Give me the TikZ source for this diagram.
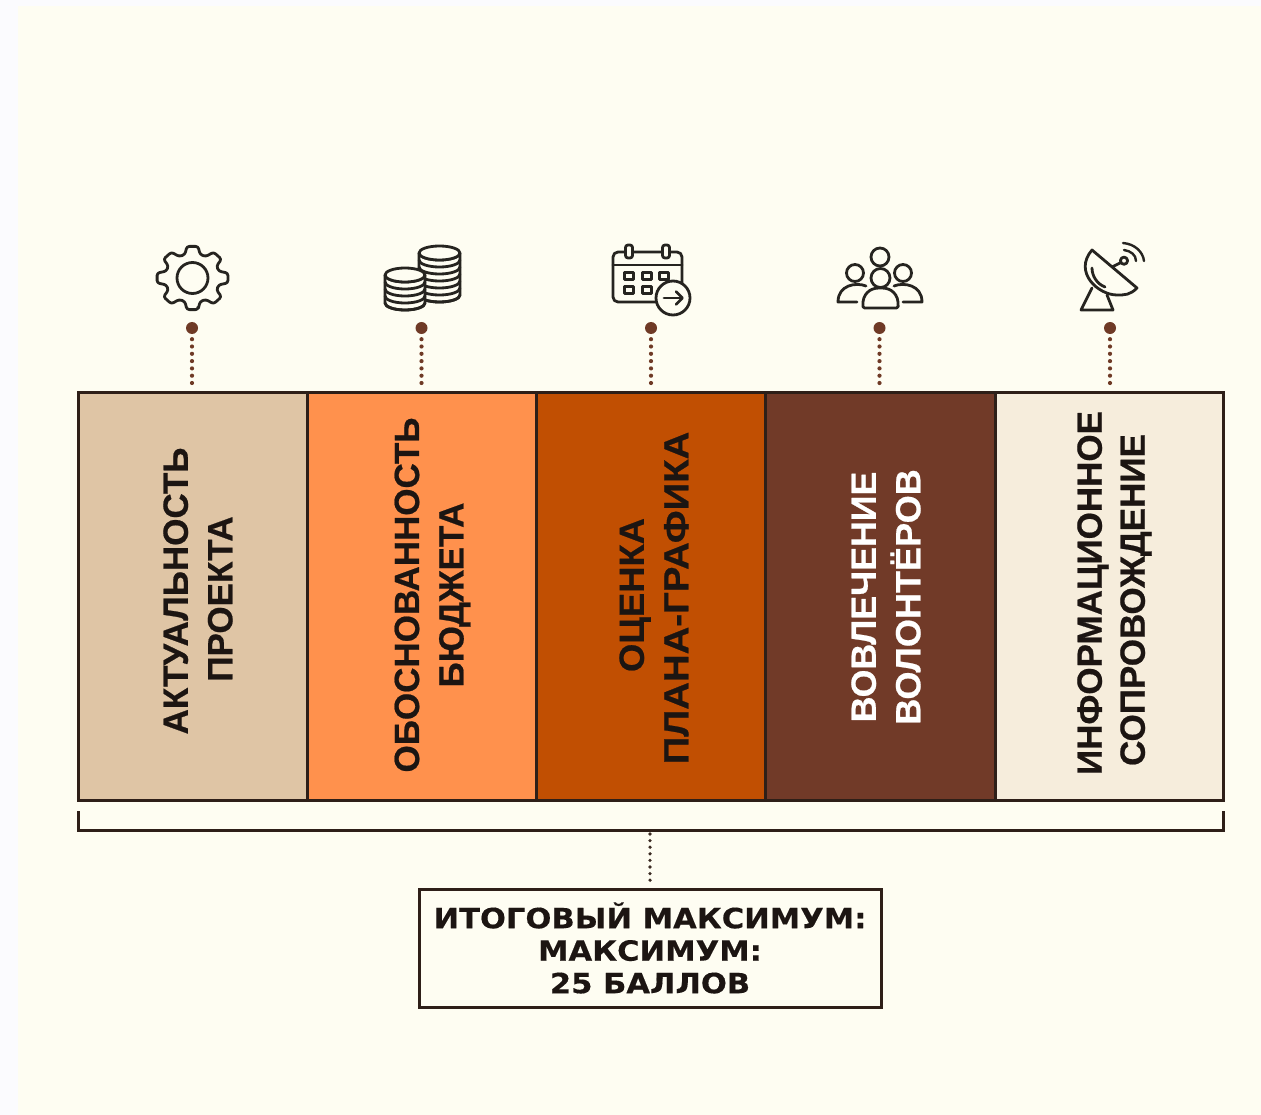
\documentclass[tikz,border=0pt]{standalone}
\usepackage{fontspec}
\setmainfont{Liberation Sans}[BoldFeatures={FakeBold=0.6}]
\newfontfamily\boxfont{DejaVu Sans}[BoldFont={DejaVu Sans Bold},BoldFeatures={FakeStretch=1.1,FakeBold=0.4}]
\definecolor{pagebg}{HTML}{FBFBFE}
\definecolor{creambg}{HTML}{FEFDF2}
\definecolor{ink}{HTML}{2E1F18}
\definecolor{textink}{HTML}{1C1512}
\definecolor{iconink}{HTML}{262420}
\definecolor{dotbrown}{HTML}{6F3A26}
\definecolor{dotdark}{HTML}{3A2A22}
\definecolor{colA}{HTML}{DFC5A5}
\definecolor{colB}{HTML}{FF914D}
\definecolor{colC}{HTML}{C14F02}
\definecolor{colD}{HTML}{713A28}
\definecolor{colE}{HTML}{F6EDDC}
\tikzset{
  colbox/.style={draw=ink,line width=3pt,minimum height=408pt,inner sep=0pt,outer sep=0pt,anchor=north west},
  coltext/.style={rotate=90,align=center,font=\fontsize{35}{44.5}\selectfont\bfseries,inner sep=0pt},
  pin/.style={circle,fill=dotbrown,minimum size=12pt,inner sep=0pt},
  dotline/.style={draw=#1,line width=4.2pt,line cap=round,dash pattern=on 0pt off 7.3pt},
  dotline/.default=dotbrown,
  icon/.style={draw=iconink,line width=2.8pt,line join=round,line cap=round},
  coinfill/.style={icon,fill=creambg},
  framebox/.style={draw=ink,line width=3pt,fill=creambg,minimum width=462pt,minimum height=118pt,inner sep=0pt,outer sep=0pt,align=center,text=textink,font=\boxfont\fontsize{27.8}{32.5}\selectfont\bfseries},
}
\newcommand{\coinstack}[5]{% cx, top cy, rx, ry, number of lower layers
  \pgfmathsetmacro{\stackbot}{#2+#4*(#5-1)}
  \draw[coinfill] (#1-#3,#2) -- (#1-#3,\stackbot) arc[start angle=180,end angle=0,x radius=#3,y radius=#4] -- (#1+#3,#2) -- cycle;
  \foreach \k in {1,...,#5}{
    \pgfmathsetmacro{\layer}{#2+#4*(\k-1)}
    \draw[icon] (#1-#3,\layer) arc[start angle=180,end angle=0,x radius=#3,y radius=#4];
  }
  \draw[coinfill] (#1,#2) ellipse[x radius=#3,y radius=#4];
}
\begin{document}
\begin{tikzpicture}[x=1pt,y=-1pt]
\useasboundingbox (0,0) rectangle (1261,1115);
\fill[pagebg] (0,0) rectangle (1261,1115);
\fill[creambg] (18,6) rectangle (1261,1115);

% columns
\node[colbox,fill=colA,minimum width=229pt] (c1) at (78,392) {};
\node[colbox,fill=colB,minimum width=229pt] (c2) at (307,392) {};
\node[colbox,fill=colC,minimum width=229pt] (c3) at (536,392) {};
\node[colbox,fill=colD,minimum width=230pt] (c4) at (765,392) {};
\node[colbox,fill=colE,minimum width=228pt] (c5) at (995,392) {};

\node[coltext,text=textink] (t1) at (198,595) {\hspace*{8pt}АКТУАЛЬНОСТЬ\\ПРОЕКТА\hspace*{8pt}};
\node[coltext,text=textink] (t2) at (432.5,595) {ОБОСНОВАННОСТЬ\\БЮДЖЕТА};
\node[coltext,text=textink] (t3) at (654,598) {\hspace*{6pt}\scalebox{1.04}[1]{ОЦЕНКА}\\\scalebox{1.096}[1]{ПЛАНА-ГРАФИКА}};
\node[coltext,text=white] (t4) at (886,597) {\scalebox{1.02}[1]{ВОВЛЕЧЕНИЕ}\\\scalebox{1.03}[1]{ВОЛОНТЁРОВ}};
\node[coltext,text=textink,font=\fontsize{35}{43}\selectfont\bfseries] (t5) at (1114.5,595) {\hspace*{4pt}ИНФОРМАЦИОННОЕ\\СОПРОВОЖДЕНИЕ\hspace*{10pt}};

% pins and dotted connectors
\node[pin] (p1) at (192,328) {};
\node[pin] (p2) at (421.5,328) {};
\node[pin] (p3) at (651,328) {};
\node[pin] (p4) at (879.5,328) {};
\node[pin] (p5) at (1110,328) {};
\foreach \i in {1,...,5}
  \draw[dotline] (p\i.south) ++(0,5) -- ([yshift=6.5pt]p\i.south |- c\i.north);

% gear
\begin{scope}[shift={(192.5,278)},xscale=1.12]
  \draw[icon,rounded corners=2.5pt]
    (81:32) \foreach \a in {0,45,...,315}{
      -- ({\a+81}:32) -- ({\a+99}:32) -- ({\a+106}:24.5) -- ({\a+119}:24.5)
    } -- cycle;
\end{scope}
\node[circle,icon,minimum size=31pt,inner sep=0pt] (gearhole) at (192.5,278) {};

% coins
\coinstack{439.5}{253}{20.5}{7}{7}
\coinstack{405}{275}{20}{7}{5}

% calendar
\draw[icon,rounded corners=5pt] (682,296) -- (682,252) -- (613,252) -- (613,302) -- (660,302);
\draw[icon] (613,265) -- (682,265);
\foreach \rx in {629,666}
  \draw[icon,fill=creambg,rounded corners=2.5pt] (\rx-3.5,245) rectangle (\rx+3.5,258);
\foreach \sx/\sy in {629/276,647/276,664/276,629/290,647/290}
  \draw[icon,line width=2.6pt] (\sx-4.5,\sy-3.5) rectangle (\sx+4.5,\sy+3.5);
\node[circle,icon,fill=creambg,minimum size=34pt,inner sep=0pt] (clock) at (673,298) {};
\draw[icon] (664,298) -- (682,298);
\draw[icon] (676,291.5) -- (682.5,298) -- (676,304.5);

% people
\draw[icon] (880,257) circle[radius=9];
\draw[icon] (855,273) circle[radius=8.5];
\draw[icon] (903,273) circle[radius=8.5];
\draw[icon] (880.5,278) circle[radius=9.5];
\draw[icon] (866,286) .. controls (856,282) and (838,285) .. (838,302) -- (857,302);
\draw[icon] (894,286) .. controls (904,282) and (922,285) .. (922,302) -- (903,302);
\draw[icon,rounded corners=1.5pt] (863,308) .. controls (862,294) and (870,288) .. (880.5,288)
  .. controls (891,288) and (899,294) .. (898,308) -- cycle;

% satellite dish
\draw[icon] (1092,250) -- (1137,288) .. controls (1130,295) and (1125,295) .. (1117,295)
  .. controls (1098,295) and (1073,272) .. (1092,250) -- cycle;
\draw[icon] (1092,268) .. controls (1092,276) and (1097,284) .. (1105,287);
\draw[icon] (1092,288) -- (1081,310) -- (1113,310) -- (1107,295);
\draw[icon] (1112,267) -- (1120,263);
\draw[icon] (1124,260.7) circle[radius=3.6];
\draw[icon,line width=2.4pt] (1124,250) .. controls (1131,251) and (1136,255) .. (1136,261);
\draw[icon,line width=2.4pt] (1123,243) .. controls (1135,244) and (1143,252) .. (1144,261);

% bracket
\coordinate (bl) at (78,830);
\coordinate (bm) at (650,830);
\coordinate (br) at (1223,830);
\draw[draw=ink,line width=3pt] (78,811) -- (bl) -- (br) -- (1223,811);

% total box
\node[framebox] (total) at (650,948) {ИТОГОВЫЙ МАКСИМУМ:\\МАКСИМУМ:\\25 БАЛЛОВ};
\draw[dotline=dotdark,line width=3.6pt,dash pattern=on 0pt off 6.6pt] ([yshift=-4pt]bm) -- ([yshift=3pt]total.north);
\end{tikzpicture}
\end{document}
